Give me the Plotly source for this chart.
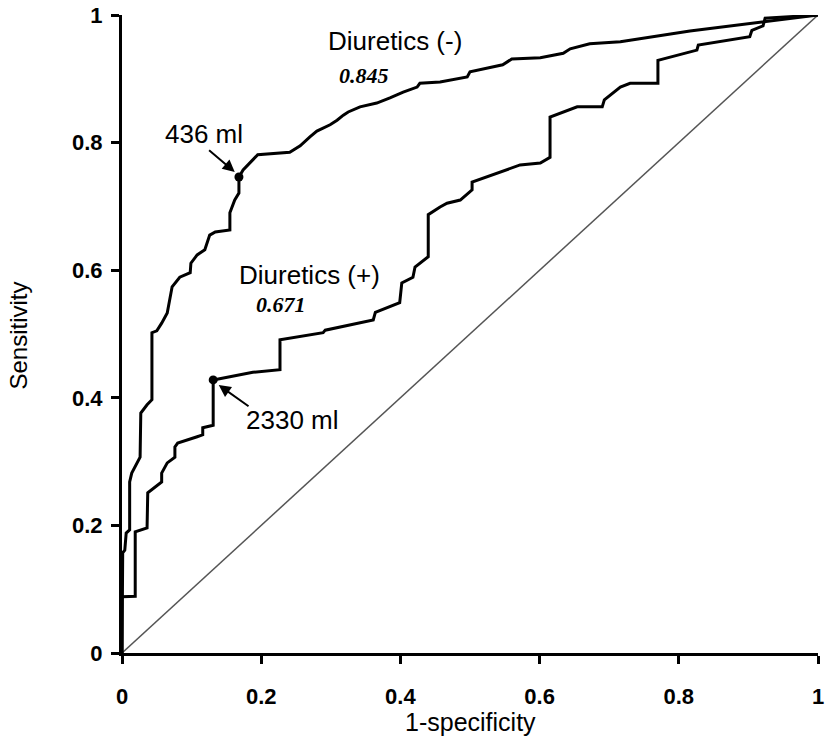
import plotly.graph_objects as go

# ROC curve: Diuretics (-)
neg_fpr = [0, 0.001, 0.004, 0.006, 0.011, 0.011, 0.014, 0.019, 0.026, 0.027, 0.036, 0.043, 0.043,
           0.050, 0.057, 0.065, 0.068, 0.072, 0.083, 0.098, 0.099, 0.108, 0.119, 0.126, 0.134,
           0.155, 0.155, 0.162, 0.168, 0.168, 0.174, 0.184, 0.195, 0.241, 0.256, 0.270, 0.280,
           0.299, 0.309, 0.318, 0.325, 0.342, 0.366, 0.385, 0.395, 0.404, 0.424, 0.428, 0.457,
           0.496, 0.500, 0.547, 0.560, 0.601, 0.634, 0.644, 0.672, 0.716, 0.816, 0.917, 0.974, 1.0]
neg_tpr = [0, 0.157, 0.161, 0.188, 0.193, 0.268, 0.282, 0.292, 0.307, 0.376, 0.389, 0.397, 0.502,
           0.505, 0.517, 0.533, 0.553, 0.574, 0.589, 0.596, 0.611, 0.624, 0.632, 0.655, 0.660,
           0.663, 0.690, 0.710, 0.721, 0.746, 0.757, 0.768, 0.781, 0.785, 0.795, 0.809, 0.818,
           0.828, 0.835, 0.843, 0.848, 0.856, 0.862, 0.870, 0.875, 0.879, 0.887, 0.893, 0.895,
           0.903, 0.911, 0.922, 0.931, 0.933, 0.940, 0.947, 0.955, 0.958, 0.975, 0.989, 0.997, 1.0]

# ROC curve: Diuretics (+)
pos_fpr = [0, 0, 0.019, 0.019, 0.036, 0.037, 0.057, 0.057, 0.065, 0.076, 0.076, 0.080, 0.108,
           0.116, 0.116, 0.131, 0.131, 0.188, 0.227, 0.227, 0.289, 0.292, 0.361, 0.364, 0.399,
           0.402, 0.418, 0.421, 0.440, 0.440, 0.457, 0.467, 0.486, 0.503, 0.503, 0.539, 0.572,
           0.601, 0.615, 0.615, 0.654, 0.690, 0.693, 0.716, 0.730, 0.770, 0.770, 0.826, 0.828,
           0.902, 0.905, 0.921, 0.924, 1.0]
pos_tpr = [0, 0.088, 0.089, 0.190, 0.196, 0.251, 0.268, 0.282, 0.298, 0.307, 0.323, 0.329, 0.339,
           0.342, 0.353, 0.357, 0.428, 0.440, 0.444, 0.491, 0.502, 0.506, 0.522, 0.534, 0.549,
           0.580, 0.589, 0.605, 0.621, 0.687, 0.699, 0.705, 0.710, 0.726, 0.738, 0.752, 0.765,
           0.768, 0.777, 0.840, 0.856, 0.856, 0.867, 0.887, 0.893, 0.893, 0.929, 0.945, 0.953,
           0.966, 0.976, 0.983, 0.995, 1.0]

# Cut-off points
cut_labels = ["436 ml", "2330 ml"]
cut_fpr = [0.168, 0.131]
cut_tpr = [0.746, 0.428]

# Curve labels and AUC
curve_names = ["Diuretics (-)", "Diuretics (+)"]
auc_values = ["0.845", "0.671"]

tick_vals = [0, 0.2, 0.4, 0.6, 0.8, 1]
tick_text = ["0", "0.2", "0.4", "0.6", "0.8", "1"]

fig = go.Figure()
fig.add_trace(go.Scatter(x=[0, 1], y=[0, 1], mode="lines",
                         line=dict(color="#555555", width=1.5), cliponaxis=False))
fig.add_trace(go.Scatter(x=neg_fpr, y=neg_tpr, mode="lines",
                         line=dict(color="black", width=3), cliponaxis=False))
fig.add_trace(go.Scatter(x=pos_fpr, y=pos_tpr, mode="lines",
                         line=dict(color="black", width=3), cliponaxis=False))
fig.add_trace(go.Scatter(x=cut_fpr, y=cut_tpr, mode="markers",
                         marker=dict(color="black", size=9), cliponaxis=False))

font_txt = dict(family="Liberation Sans, Arial", size=26, color="black")
font_auc = dict(family="Liberation Serif, Times New Roman", size=22, color="black",
                weight="bold", style="italic")

ann = []
# Curve names
ann.append(dict(x=0.392, y=0.960, text=curve_names[0], showarrow=False, font=font_txt))
ann.append(dict(x=0.270, y=0.592, text=curve_names[1], showarrow=False, font=font_txt))
# AUC values
ann.append(dict(x=0.348, y=0.905, text=auc_values[0], showarrow=False, font=font_auc))
ann.append(dict(x=0.228, y=0.546, text=auc_values[1], showarrow=False, font=font_auc))
# Cut-off labels
ann.append(dict(x=0.118, y=0.813, text=cut_labels[0], showarrow=False, font=font_txt))
ann.append(dict(x=0.245, y=0.365, text=cut_labels[1], showarrow=False, font=font_txt))
# Arrows
ann.append(dict(x=cut_fpr[0] - 0.006, y=cut_tpr[0] + 0.008, ax=0.123, ay=0.790,
                axref="x", ayref="y", text="", showarrow=True,
                arrowhead=2, arrowsize=1.2, arrowwidth=2, arrowcolor="black"))
ann.append(dict(x=cut_fpr[1] + 0.008, y=cut_tpr[1] - 0.008, ax=0.184, ay=0.385,
                axref="x", ayref="y", text="", showarrow=True,
                arrowhead=2, arrowsize=1.2, arrowwidth=2, arrowcolor="black"))
# Axis titles
ann.append(dict(x=0.5, y=-0.108, xref="paper", yref="paper", text="1-specificity",
                xanchor="center", yanchor="middle",
                showarrow=False, font=dict(family="Liberation Sans, Arial", size=25, color="black")))
ann.append(dict(x=-0.149, y=0.498, xref="paper", yref="paper", text="Sensitivity",
                xanchor="center", yanchor="middle",
                textangle=-90, showarrow=False,
                font=dict(family="Liberation Sans, Arial", size=24, color="black")))

axis_common = dict(range=[0, 1], showgrid=False, zeroline=False, showline=True,
                   linecolor="black", linewidth=3, ticks="outside", ticklen=8,
                   tickwidth=3, tickcolor="black", tickvals=tick_vals, ticktext=tick_text,
                   tickfont=dict(family="Liberation Sans, Arial", size=22, color="black",
                                 weight="bold"),
                   automargin=False, fixedrange=True)

fig.update_layout(
    width=825, height=739,
    margin=dict(l=122, r=7, t=15, b=86),
    paper_bgcolor="white", plot_bgcolor="white",
    showlegend=False,
    xaxis=dict(**axis_common, ticklabelstandoff=14),
    yaxis=dict(**axis_common, ticklabelstandoff=4),
    annotations=ann,
)

fig.write_html("out.html")
